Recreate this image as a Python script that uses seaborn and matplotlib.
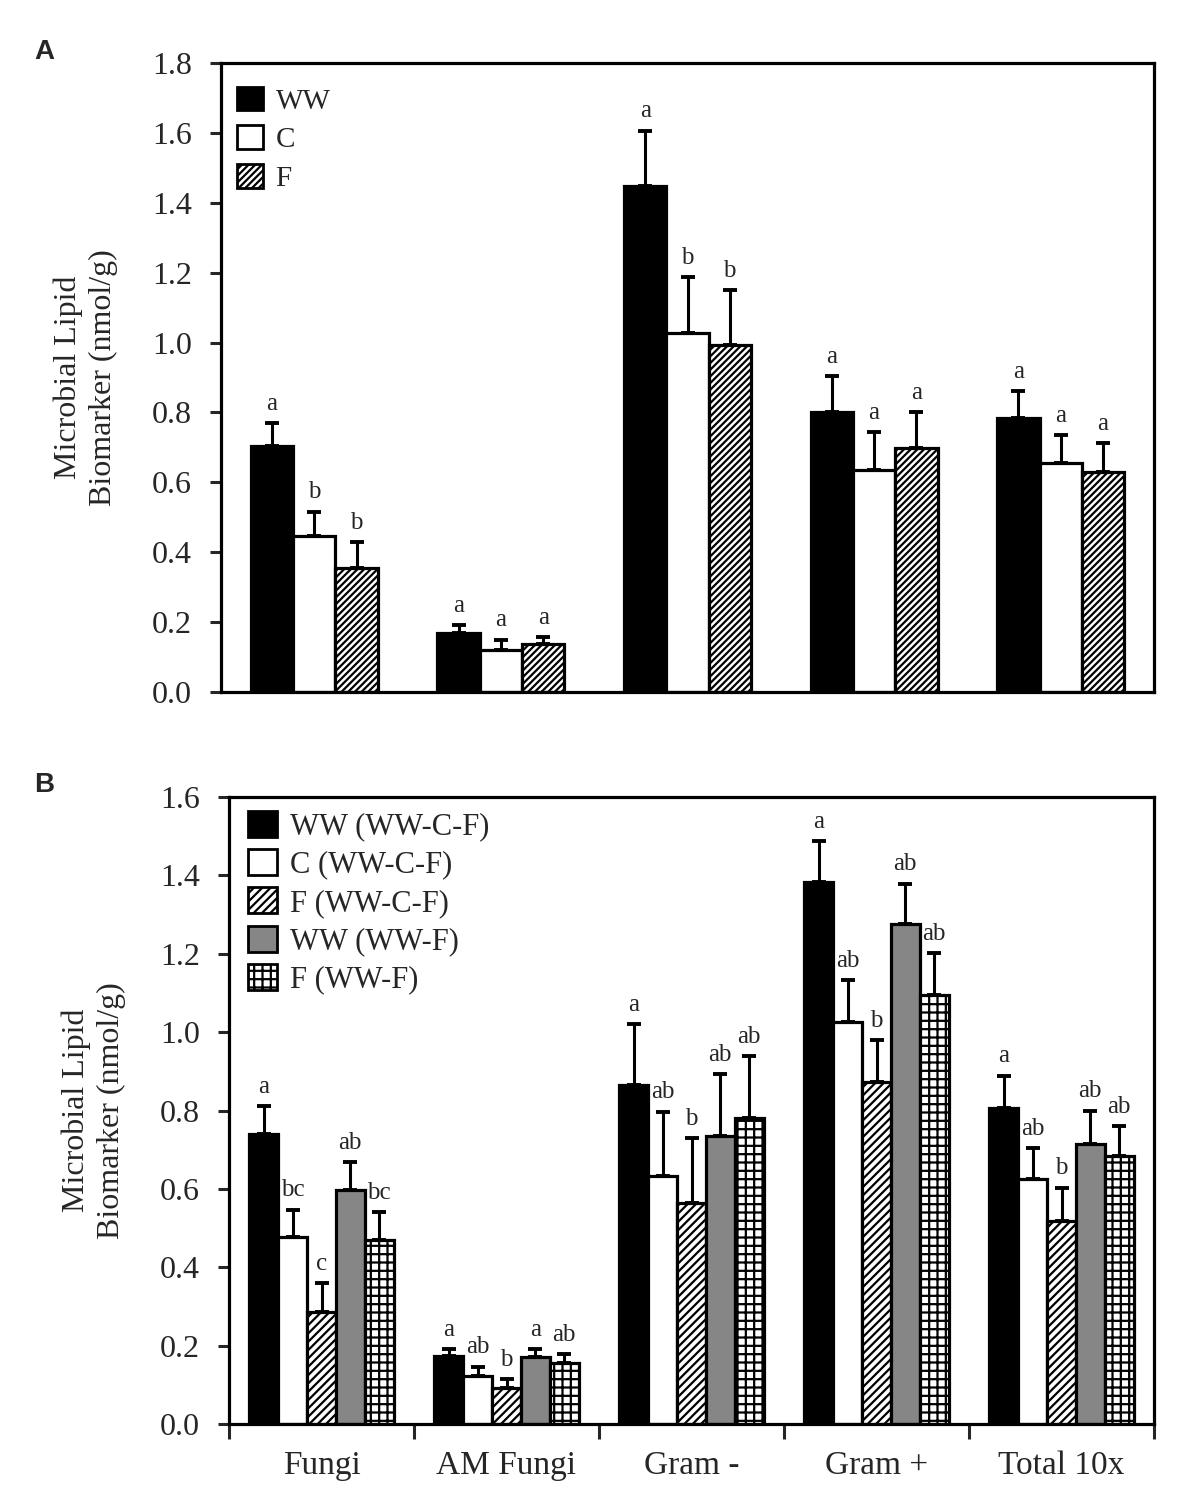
import numpy as np
import pandas as pd
import matplotlib
matplotlib.use("Agg")
import matplotlib.pyplot as plt
from matplotlib.patches import Patch
import seaborn as sns

# ---------------- data ----------------
categories = ["Fungi", "AM Fungi", "Gram -", "Gram +", "Total 10x"]

# Panel A
a_groups = ["WW", "C", "F"]
a_ww = [0.703, 0.170, 1.448, 0.800, 0.783]
a_c = [0.447, 0.120, 1.027, 0.635, 0.654]
a_f = [0.356, 0.137, 0.993, 0.697, 0.629]
a_ww_se = [0.067, 0.021, 0.158, 0.104, 0.077]
a_c_se = [0.069, 0.030, 0.160, 0.108, 0.081]
a_f_se = [0.072, 0.020, 0.156, 0.103, 0.083]
a_ww_let = ["a", "a", "a", "a", "a"]
a_c_let = ["b", "a", "b", "a", "a"]
a_f_let = ["b", "a", "b", "a", "a"]

# Panel B
b_groups = ["WW (WW-C-F)", "C (WW-C-F)", "F (WW-C-F)", "WW (WW-F)", "F (WW-F)"]
b_ww = [0.741, 0.173, 0.865, 1.382, 0.806]
b_c = [0.477, 0.123, 0.632, 1.027, 0.625]
b_f = [0.287, 0.093, 0.565, 0.874, 0.519]
b_ww2 = [0.596, 0.170, 0.736, 1.276, 0.715]
b_f2 = [0.470, 0.156, 0.781, 1.095, 0.683]
b_ww_se = [0.070, 0.018, 0.155, 0.105, 0.083]
b_c_se = [0.070, 0.023, 0.165, 0.106, 0.079]
b_f_se = [0.073, 0.022, 0.165, 0.106, 0.084]
b_ww2_se = [0.072, 0.021, 0.157, 0.103, 0.085]
b_f2_se = [0.070, 0.023, 0.157, 0.106, 0.077]
b_ww_let = ["a", "a", "a", "a", "a"]
b_c_let = ["bc", "ab", "ab", "ab", "ab"]
b_f_let = ["c", "b", "b", "b", "b"]
b_ww2_let = ["ab", "a", "ab", "ab", "ab"]
b_f2_let = ["bc", "ab", "ab", "ab", "ab"]

# ---------------- style ----------------
sns.set_style("ticks")
plt.rcParams["font.family"] = ["Liberation Serif", "DejaVu Serif"]
plt.rcParams["hatch.linewidth"] = 1.6
plt.rcParams["hatch.color"] = "black"

fig = plt.figure(figsize=(11.83, 15.04), dpi=100)
W, H = 1183, 1504
axA = fig.add_axes([221 / W, 1 - 692 / H, (1154 - 221) / W, (692 - 63) / H])
axB = fig.add_axes([229 / W, 1 - 1424 / H, (1154 - 229) / W, (1424 - 797) / H])


def build_df(groups, values):
    rows = []
    for g, vals in zip(groups, values):
        for c, v in zip(categories, vals):
            rows.append({"category": c, "group": g, "value": v})
    return pd.DataFrame(rows)


def draw_panel(ax, groups, values, ses, letters, colors, hatches, width, ymax, yticks,
               let_fs, leg_fs, leg_h, leg_sp, leg_anchor):
    df = build_df(groups, values)
    pal = dict(zip(groups, colors))
    sns.barplot(data=df, x="category", y="value", hue="group", hue_order=groups,
                order=categories, palette=pal, saturation=1, width=width,
                edgecolor="black", linewidth=2.3, errorbar=None, legend=False, ax=ax)
    for cont, h, vals, se, lets in zip(ax.containers, hatches, values, ses, letters):
        xs = []
        for p in cont.patches:
            if h:
                p.set_hatch(h)
            p.set_edgecolor("black")
            xs.append(p.get_x() + p.get_width() / 2)
        vals = np.asarray(vals)
        se = np.asarray(se)
        ax.errorbar(xs, vals, yerr=[np.zeros_like(se), se], fmt="none", ecolor="black",
                    elinewidth=2.2, capsize=4.8, capthick=2.8, zorder=5)
        for x, top, lt in zip(xs, vals + se, lets):
            ax.annotate(lt, (x, top), xytext=(0, 6), textcoords="offset points",
                        ha="center", va="bottom", fontsize=let_fs)
    ax.set_ylim(0, ymax)
    ax.set_xlim(-0.5, len(categories) - 0.5)
    ax.set_yticks(yticks)
    ax.set_yticklabels([f"{t:.1f}" for t in yticks], fontsize=23)
    ax.tick_params(axis="y", direction="out", length=8, width=2.2, pad=13)
    for s in ax.spines.values():
        s.set_visible(True)
        s.set_linewidth(2.3)
        s.set_color("black")
    ax.set_ylabel("Microbial Lipid\nBiomarker (nmol/g)", fontsize=23, labelpad=24,
                  linespacing=1.3)
    ax.set_xlabel("")
    leg_handles = [Patch(facecolor=c, edgecolor="black", hatch=h, linewidth=2.0)
                   for c, h in zip(colors, hatches)]
    ax.legend(leg_handles, groups, loc="upper left", bbox_to_anchor=leg_anchor,
              frameon=False, fontsize=leg_fs,
              handlelength=leg_h, handleheight=leg_h, handletextpad=0.45,
              labelspacing=leg_sp, borderaxespad=0, borderpad=0)


# Panel A
draw_panel(axA, a_groups, [a_ww, a_c, a_f], [a_ww_se, a_c_se, a_f_se],
           [a_ww_let, a_c_let, a_f_let],
           ["black", "white", "white"], ["", "", "/////"],
           0.68, 1.8, np.arange(0, 1.81, 0.2), 18,
           21, 0.88, 0.37, (0.017, 0.9625))
axA.set_xticks([])

# Panel B
draw_panel(axB, b_groups, [b_ww, b_c, b_f, b_ww2, b_f2],
           [b_ww_se, b_c_se, b_f_se, b_ww2_se, b_f2_se],
           [b_ww_let, b_c_let, b_f_let, b_ww2_let, b_f2_let],
           ["black", "white", "white", "#868686", "white"], ["", "", "////", "", "++"],
           0.78, 1.6, np.arange(0, 1.61, 0.2), 18,
           22, 0.92, 0.26, (0.021, 0.978))
axB.set_xticks(np.arange(len(categories)))
axB.set_xticklabels(categories, fontsize=24)
axB.tick_params(axis="x", which="major", length=0, pad=19)
axB.set_xticks(np.arange(-0.5, len(categories), 1.0), minor=True)
axB.tick_params(axis="x", which="minor", direction="out", length=11, width=2.2)

fig.text(34 / W, 1 - 52 / H, "A", fontsize=20, fontweight="bold",
         family=["Liberation Sans", "DejaVu Sans"], va="center")
fig.text(34 / W, 1 - 785 / H, "B", fontsize=20, fontweight="bold",
         family=["Liberation Sans", "DejaVu Sans"], va="center")

fig.savefig("out.png", dpi=100)
